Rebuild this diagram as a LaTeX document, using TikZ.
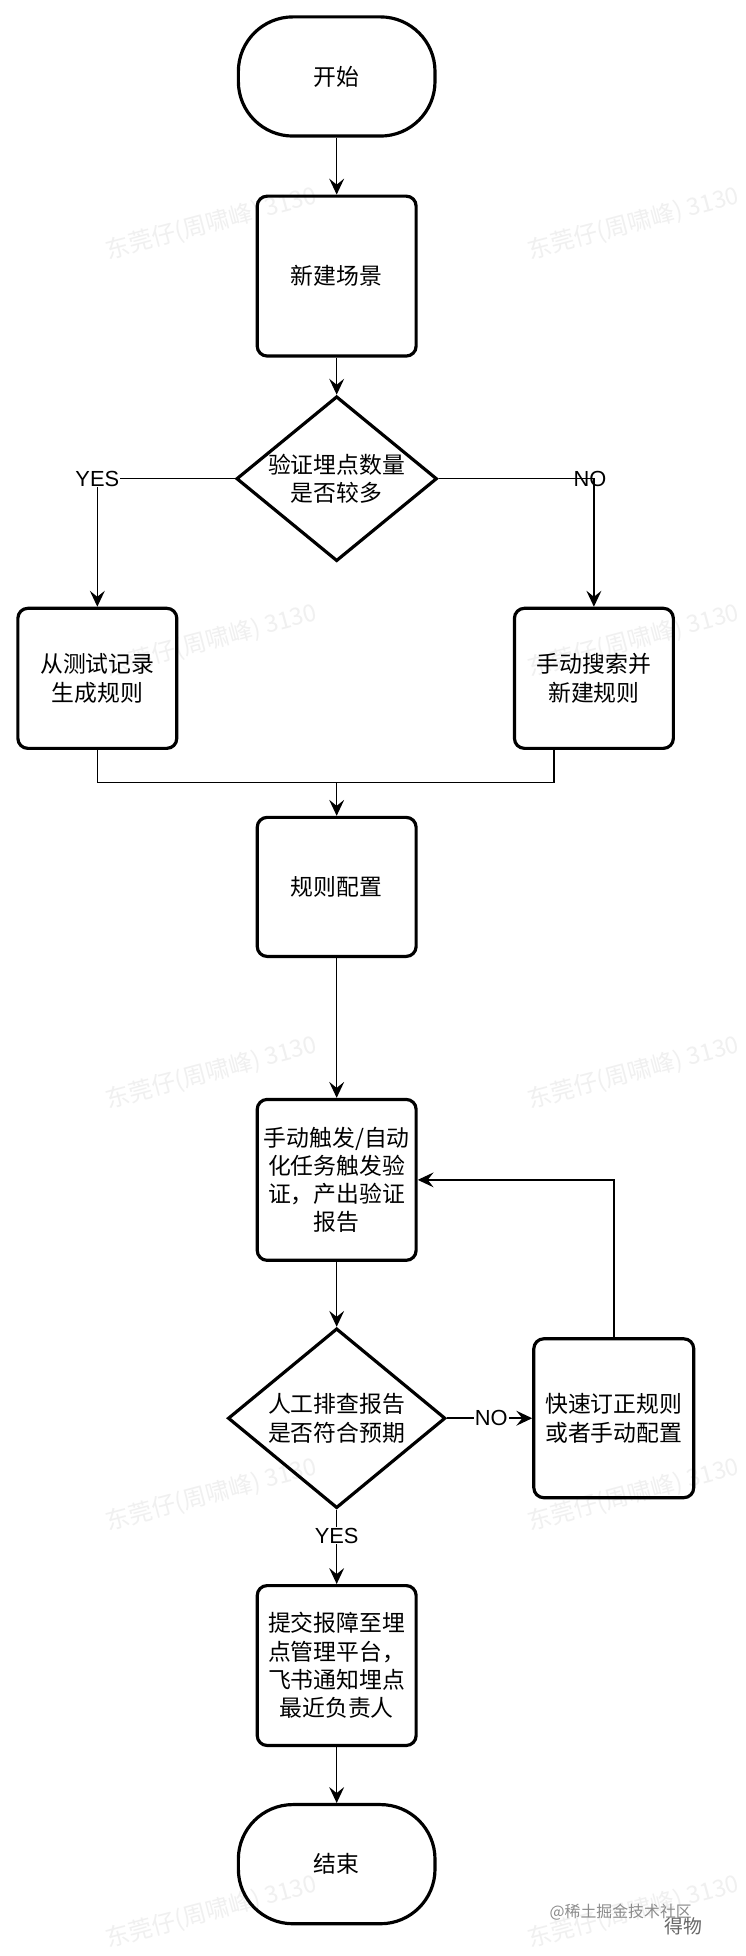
\documentclass[tikz,border=0pt]{standalone}
\usepackage{fontspec}
\setmainfont{Liberation Sans}
\newfontfamily\cjk{Noto Sans CJK SC}
\usetikzlibrary{arrows.meta,
                shapes.geometric
            }

\begin{document}
\begin{tikzpicture}[x=1pt, y=-1pt,
        every node/.style={font=\cjk\fontsize{23}{28.5}\selectfont, align=center},
        stepbox/.style={draw, line width=3.2pt, rounded corners=10pt, minimum width=160pt, inner sep=0pt},
        termbox/.style={draw, line width=3.2pt, rounded corners=55pt, minimum width=198pt, minimum height=120pt},
        decision/.style={draw, diamond, line width=3.2pt, inner sep=0pt},
        flow/.style={line width=1.5pt, -{Stealth[length=16pt, width=15pt, inset=6pt]}},
        link/.style={line width=1.5pt},
        branch/.style={font=\fontsize{22}{22}\selectfont, inner sep=1pt},
        wmark/.style={font=\cjk\fontsize{24}{24}\selectfont, text=black!6, rotate=15}
    ]
            \fill[white] (0, 0) rectangle (716, 1956);
            % watermarks
            \foreach \wy in {225, 645, 1080, 1505, 1925} {
                \node[wmark] (wl\wy) at (213, \wy) {东莞仔(周啸峰) 3130};
                \node[wmark] (wr\wy) at (638, \wy) {东莞仔(周啸峰) 3130};
            }
            \node[font=\cjk\fontsize{16}{16}\selectfont, text=black!45] (juejin) at (625, 1925) {@稀土掘金技术社区};
            \node[font=\cjk\fontsize{19}{19}\selectfont, text=black!60] (dewu) at (688, 1940) {得物};

            \node[termbox] (start) at (339, 77) {开始};
            \node[stepbox, minimum height=161pt] (scene) at (339, 278) {新建场景};
            \node[decision, aspect=1.22, minimum width=202pt, minimum height=166pt] (q1) at (339, 482) {验证埋点数量\\是否较多};
            \node[stepbox, minimum height=141pt] (record) at (98, 683) {从测试记录\\生成规则};
            \node[stepbox, minimum height=141pt] (search) at (598, 683) {手动搜索并\\新建规则};
            \node[stepbox, minimum height=140pt] (config) at (339, 893) {规则配置};
            \node[stepbox, minimum height=162pt] (trigger) at (339, 1188) {手动触发/自动\\化任务触发验\\证，产出验证\\报告};
            \node[decision, aspect=1.21, minimum width=219pt, minimum height=181pt] (q2) at (339, 1428) {人工排查报告\\是否符合预期};
            \node[stepbox, minimum width=161pt, minimum height=160pt] (fix) at (618, 1428) {快速订正规则\\或者手动配置};
            \node[stepbox, minimum height=161pt] (report) at (339, 1677) {提交报障至埋\\点管理平台，\\飞书通知埋点\\最近负责人};
            \node[termbox] (finish) at (339, 1877) {结束};

            \coordinate (join) at (339, 788);

            \draw[flow] (start) -- (scene);
            \draw[flow] (scene) -- (q1);
            \draw[flow] (q1.west) -| node[branch, fill=white, pos=0.5] {YES} (record.north);
            \draw[flow] (q1.east) -| node[branch, pos=0.5, xshift=-4pt] {NO} (search.north);
            \draw[link] (record.south) |- (join);
            \draw[link] ([xshift=-40pt]search.south) |- (join);
            \draw[flow] (join) -- (config);
            \draw[flow] (config) -- (trigger);
            \draw[flow] (trigger) -- (q2);
            \draw[flow] (q2.east) -- node[branch, fill=white, pos=0.52] {NO} (fix.west);
            \draw[flow] (fix.north) |- (trigger.east);
            \draw[flow] (q2.south) -- node[branch, fill=white, pos=0.35] {YES} (report.north);
            \draw[flow] (report) -- (finish);
        \end{tikzpicture}
\end{document}
